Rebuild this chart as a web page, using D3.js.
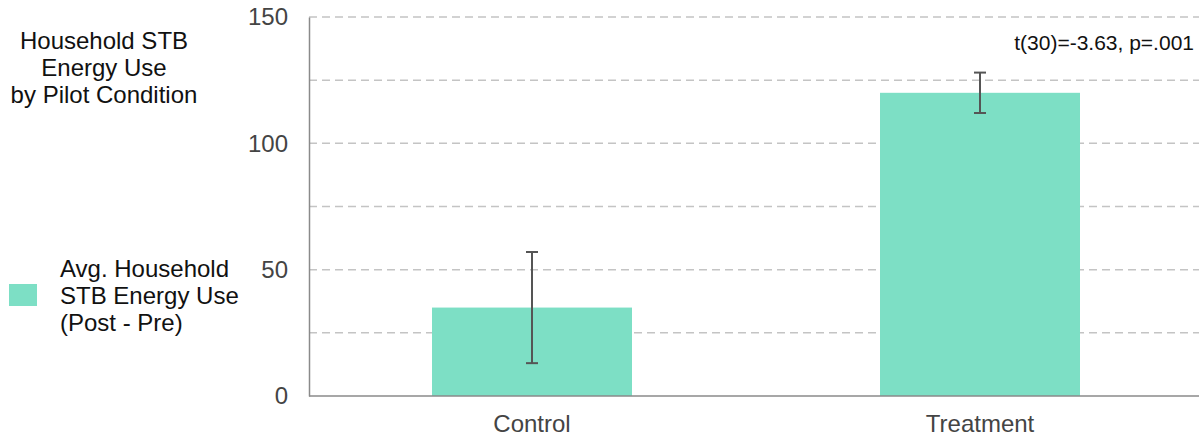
<!DOCTYPE html>
<html>
<head>
<meta charset="utf-8">
<script src="https://cdn.jsdelivr.net/npm/d3@7"></script>
<style>
  html, body { margin: 0; padding: 0; background: #fff; }
  svg { display: block; font-family: "Liberation Sans", Arial, sans-serif; }
</style>
</head>
<body>
<svg id="chart" width="1199" height="438"></svg>
<script>
// Pilot results: change in household STB energy use (post - pre)
const conditions = ["Control", "Treatment"];
const avgUse = [35, 120];
const errHalf = [22, 8];
const yTicks = [0, 50, 100, 150];
const gridTicks = [25, 50, 75, 100, 125, 150];
const titleLines = ["Household STB", "Energy Use", "by Pilot Condition"];
const legendLines = ["Avg. Household", "STB Energy Use", "(Post - Pre)"];
const statText = "t(30)=-3.63, p=.001";

const svg = d3.select("#chart");
const W = 1199, H = 438;
const m = { left: 309, right: 0, top: 17, bottom: 42 };

const x = d3.scaleBand()
  .domain(conditions)
  .range([308, 1204])
  .paddingInner(0.5536)
  .paddingOuter(0.2768);

const y = d3.scaleLinear()
  .domain([0, 150])
  .range([H - m.bottom, m.top]);

const barColor = "#7ddfc5";

// dashed gridlines
svg.append("g")
  .selectAll("line")
  .data(gridTicks)
  .join("line")
  .attr("x1", m.left)
  .attr("x2", W)
  .attr("y1", d => y(d))
  .attr("y2", d => y(d))
  .attr("stroke", "#c4c4c4")
  .attr("stroke-width", 1.5)
  .attr("stroke-dasharray", "8,5");

// bars
svg.append("g")
  .selectAll("rect")
  .data(conditions)
  .join("rect")
  .attr("x", d => x(d))
  .attr("width", x.bandwidth())
  .attr("y", (d, i) => y(avgUse[i]))
  .attr("height", (d, i) => y(0) - y(avgUse[i]))
  .attr("fill", barColor);

// error bars
const eb = svg.append("g")
  .attr("stroke", "#555")
  .attr("stroke-width", 2);
conditions.forEach((c, i) => {
  const cx = x(c) + x.bandwidth() / 2;
  const hi = y(avgUse[i] + errHalf[i]);
  const lo = y(avgUse[i] - errHalf[i]);
  eb.append("line").attr("x1", cx).attr("x2", cx).attr("y1", hi).attr("y2", lo);
  eb.append("line").attr("x1", cx - 6).attr("x2", cx + 6).attr("y1", hi).attr("y2", hi);
  eb.append("line").attr("x1", cx - 6).attr("x2", cx + 6).attr("y1", lo).attr("y2", lo);
});

// y axis
const yAxis = svg.append("g")
  .attr("transform", `translate(${m.left},0)`)
  .call(d3.axisLeft(y).tickValues(yTicks).tickSize(0).tickPadding(21));
yAxis.select(".domain").attr("stroke", "#8a8a8a").attr("stroke-width", 1.5);
yAxis.selectAll("text")
  .attr("font-size", 24)
  .attr("fill", "#444")
  .attr("font-family", "Liberation Sans, Arial, sans-serif");

// x axis
const xAxis = svg.append("g")
  .attr("transform", `translate(0,${y(0)})`)
  .call(d3.axisBottom(x).tickSize(0).tickPadding(19));
xAxis.select(".domain")
  .attr("d", `M${m.left},0H${W}`)
  .attr("stroke", "#8a8a8a")
  .attr("stroke-width", 1.5);
xAxis.selectAll("text")
  .attr("font-size", 24)
  .attr("fill", "#444")
  .attr("font-family", "Liberation Sans, Arial, sans-serif");

// significance note
svg.append("text")
  .attr("x", 1194)
  .attr("y", 50)
  .attr("text-anchor", "end")
  .attr("font-size", 21)
  .attr("fill", "#111")
  .text(statText);

// title
svg.append("text")
  .attr("text-anchor", "middle")
  .attr("font-size", 24)
  .attr("fill", "#111")
  .selectAll("tspan")
  .data(titleLines)
  .join("tspan")
  .attr("x", 104)
  .attr("y", (d, i) => 49 + i * 27)
  .text(d => d);

// legend
svg.append("rect")
  .attr("x", 9).attr("y", 284)
  .attr("width", 28).attr("height", 22)
  .attr("fill", barColor);
svg.append("text")
  .attr("font-size", 24)
  .attr("fill", "#111")
  .selectAll("tspan")
  .data(legendLines)
  .join("tspan")
  .attr("x", 60)
  .attr("y", (d, i) => 277 + i * 27)
  .text(d => d);
</script>
</body>
</html>
